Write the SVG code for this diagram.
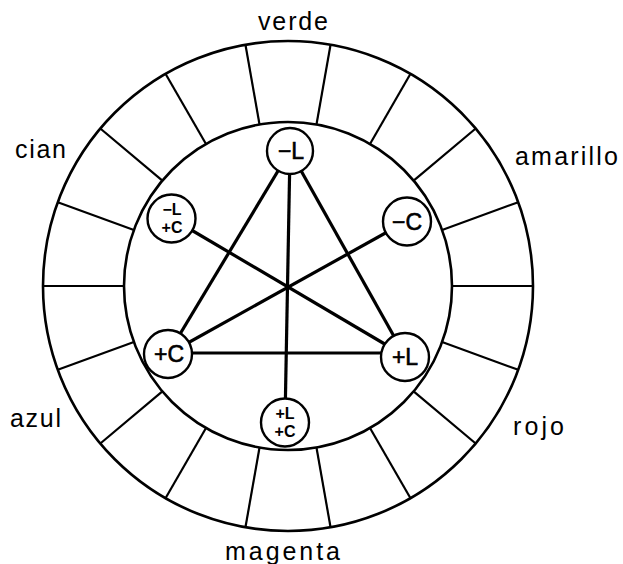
<svg xmlns="http://www.w3.org/2000/svg" width="623" height="564" viewBox="0 0 623 564">
<style>
.ring{fill:none;stroke:#000;stroke-width:2.6}
.rad{stroke:#000;stroke-width:2.2}
.edge{stroke:#000;stroke-width:3.2;fill:none}
.node{fill:#fff;stroke:#000;stroke-width:2.4}
.lbl{font-family:"Liberation Sans","DejaVu Sans",sans-serif;font-size:25px;fill:#000}
.nl{font-family:"Liberation Sans","DejaVu Sans",sans-serif;font-size:23px;fill:#000;text-anchor:middle;stroke:#000;stroke-width:0.6}
.ns{font-family:"Liberation Sans","DejaVu Sans",sans-serif;font-size:16px;font-weight:bold;fill:#000;text-anchor:middle}
</style>
<rect width="623" height="564" fill="#fff"/>
<g id="wheel">
<circle class="ring" cx="288" cy="286" r="245"/>
<circle class="ring" cx="288" cy="286" r="164"/>
<g transform="translate(288 286)">
<line class="rad" x1="0" y1="-164" x2="0" y2="-245" transform="rotate(10)"/>
<line class="rad" x1="0" y1="-164" x2="0" y2="-245" transform="rotate(30)"/>
<line class="rad" x1="0" y1="-164" x2="0" y2="-245" transform="rotate(50)"/>
<line class="rad" x1="0" y1="-164" x2="0" y2="-245" transform="rotate(70)"/>
<line class="rad" x1="0" y1="-164" x2="0" y2="-245" transform="rotate(90)"/>
<line class="rad" x1="0" y1="-164" x2="0" y2="-245" transform="rotate(110)"/>
<line class="rad" x1="0" y1="-164" x2="0" y2="-245" transform="rotate(130)"/>
<line class="rad" x1="0" y1="-164" x2="0" y2="-245" transform="rotate(150)"/>
<line class="rad" x1="0" y1="-164" x2="0" y2="-245" transform="rotate(170)"/>
<line class="rad" x1="0" y1="-164" x2="0" y2="-245" transform="rotate(190)"/>
<line class="rad" x1="0" y1="-164" x2="0" y2="-245" transform="rotate(210)"/>
<line class="rad" x1="0" y1="-164" x2="0" y2="-245" transform="rotate(230)"/>
<line class="rad" x1="0" y1="-164" x2="0" y2="-245" transform="rotate(250)"/>
<line class="rad" x1="0" y1="-164" x2="0" y2="-245" transform="rotate(270)"/>
<line class="rad" x1="0" y1="-164" x2="0" y2="-245" transform="rotate(290)"/>
<line class="rad" x1="0" y1="-164" x2="0" y2="-245" transform="rotate(310)"/>
<line class="rad" x1="0" y1="-164" x2="0" y2="-245" transform="rotate(330)"/>
<line class="rad" x1="0" y1="-164" x2="0" y2="-245" transform="rotate(350)"/>
</g>
</g>
<g id="labels">
<text class="lbl" x="258" y="30" textLength="70" lengthAdjust="spacing">verde</text>
<text class="lbl" x="15" y="158" textLength="51" lengthAdjust="spacing">cian</text>
<text class="lbl" x="515" y="165" textLength="103" lengthAdjust="spacing">amarillo</text>
<text class="lbl" x="10" y="427" textLength="51" lengthAdjust="spacing">azul</text>
<text class="lbl" x="513" y="435" textLength="51" lengthAdjust="spacing">rojo</text>
<text class="lbl" x="225" y="560" textLength="115" lengthAdjust="spacing">magenta</text>
</g>
<g id="connectors">
<line class="edge" x1="290" y1="151" x2="168" y2="354"/>
<line class="edge" x1="290" y1="151" x2="405" y2="356"/>
<line class="edge" x1="168" y1="353" x2="405" y2="353"/>
<line class="edge" x1="290" y1="151" x2="285" y2="422"/>
<line class="edge" x1="171" y1="218" x2="405" y2="356"/>
<line class="edge" x1="407" y1="221" x2="168" y2="354"/>
</g>
<g id="n-minusL">
<circle class="node" cx="290" cy="151" r="23"/>
<text class="nl" x="291" y="159">−L</text>
</g>
<g id="n-minusLplusC">
<circle class="node" cx="171.5" cy="218.5" r="24"/>
<text class="ns" x="172" y="215">−L</text>
<text class="ns" x="172" y="233">+C</text>
</g>
<g id="n-minusC">
<circle class="node" cx="407" cy="221.5" r="24"/>
<text class="nl" x="407" y="229.5">−C</text>
</g>
<g id="n-plusC">
<circle class="node" cx="168" cy="354" r="24"/>
<text class="nl" x="169" y="362">+C</text>
</g>
<g id="n-plusL">
<circle class="node" cx="405" cy="357" r="24"/>
<text class="nl" x="405" y="365">+L</text>
</g>
<g id="n-plusLplusC">
<circle class="node" cx="285" cy="422.5" r="24"/>
<text class="ns" x="285" y="419">+L</text>
<text class="ns" x="285" y="437">+C</text>
</g>
</svg>
